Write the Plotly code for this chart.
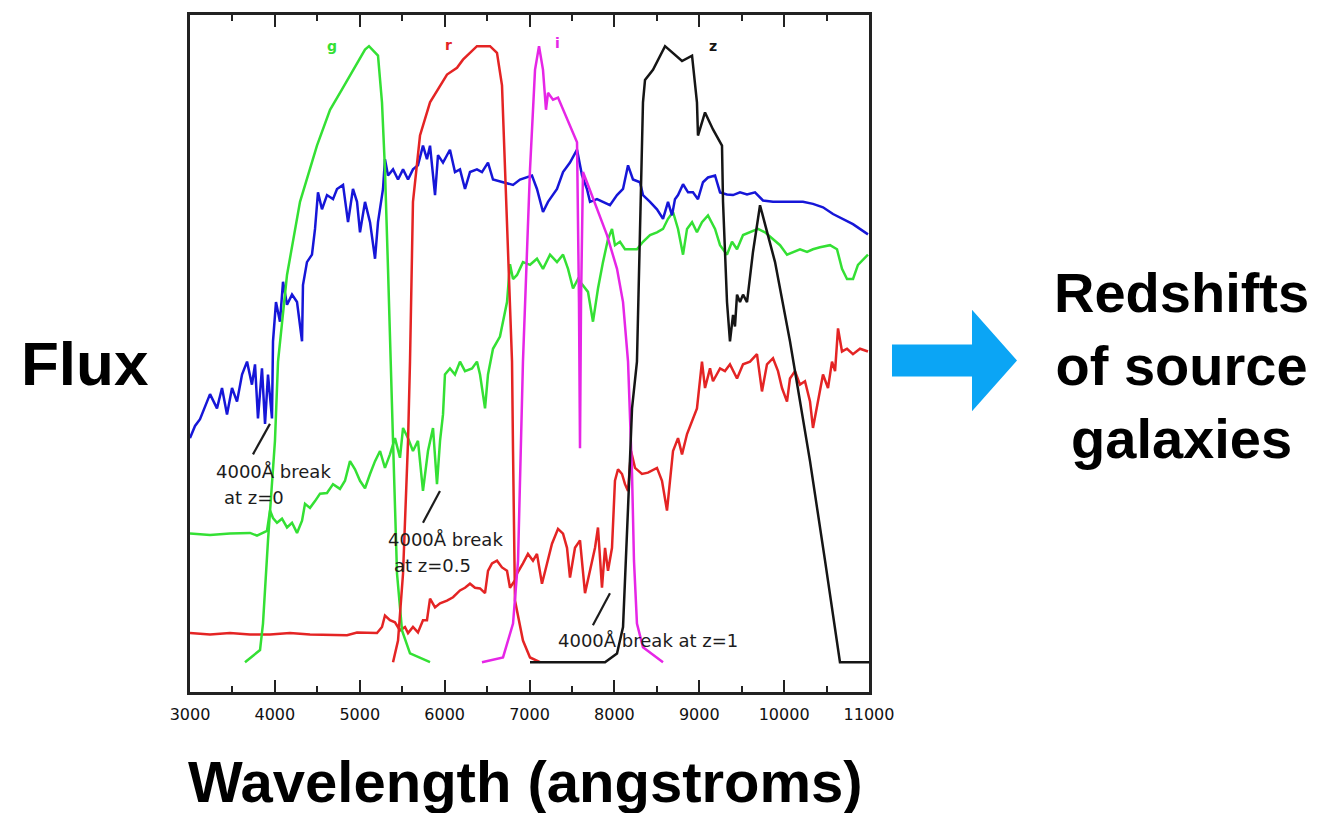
import plotly.graph_objects as go

# ---- filter transmission curves (wavelength in Angstrom, relative throughput) ----
g_wave = [3648, 3825, 3860, 3919, 4001, 4037, 4143, 4296, 4496, 4650, 4791, 4920,
          5062, 5109, 5215, 5262, 5297, 5333, 5368, 5392, 5439, 5498, 5592, 5828]
g_thru = [4.4, 6.2, 10.1, 22.4, 37.1, 48.8, 61.6, 72.4, 80.7, 86.0, 89.0, 91.9,
          94.9, 95.4, 94.0, 87.1, 77.2, 62.5, 48.8, 37.1, 17.5, 9.1, 5.7, 4.4]

r_wave = [5392, 5451, 5510, 5569, 5592, 5627, 5710, 5828, 6028, 6146, 6216, 6381,
          6535, 6617, 6676, 6711, 6747, 6794, 6806, 6829, 6923, 7006, 7124]
r_thru = [4.4, 7.6, 17.5, 37.1, 48.8, 72.4, 82.2, 87.1, 91.2, 92.2, 93.4, 95.4,
          95.4, 94.4, 89.6, 77.2, 62.5, 48.8, 35.6, 13.5, 7.6, 5.1, 4.4]

i_wave = [6440, 6688, 6806, 6865, 6923, 7006, 7065, 7112, 7159, 7194, 7218, 7277,
          7336, 7395, 7560, 7583, 7595, 7607, 7630, 7677, 7795, 7913, 8031, 8102,
          8161, 8208, 8231, 8266, 8337, 8573]
i_thru = [4.4, 5.1, 10.1, 19.4, 48.8, 77.2, 91.9, 95.4, 91.9, 86.0, 88.5, 87.5,
          87.8, 86.0, 81.2, 57.6, 36.0, 57.6, 76.8, 75.3, 71.3, 67.5, 62.5, 57.6,
          48.8, 32.2, 19.4, 10.1, 6.6, 4.4]

z_wave = [7006, 7890, 8031, 8102, 8161, 8208, 8266, 8302, 8337, 8361, 8455, 8597,
          8691, 8797, 8915, 8973, 8985, 9068, 9162, 9268, 9280, 9327, 9362, 9398,
          9421, 9445, 9480, 9516, 9563, 9633, 9716, 9893, 10069, 10305, 10482,
          10658, 11000]
z_thru = [4.4, 4.4, 5.7, 9.6, 27.2, 41.9, 48.8, 67.5, 87.1, 90.4, 91.9, 95.4,
          94.4, 93.2, 94.0, 87.1, 82.2, 85.6, 83.1, 80.7, 72.4, 57.6, 51.8, 55.7,
          54.0, 58.7, 57.6, 58.7, 57.6, 65.0, 71.9, 63.5, 51.8, 34.1, 19.4,
          4.4, 4.4]

# ---- galaxy spectrum observed at z = 0 (blue) ----
z0_wave = [3000, 3059, 3118, 3177, 3236, 3318, 3377, 3436, 3495, 3554, 3613, 3672,
           3730, 3766, 3801, 3848, 3884, 3919, 3966, 3978, 4013, 4060, 4096, 4143,
           4202, 4261, 4320, 4331, 4378, 4437, 4473, 4508, 4555, 4614, 4685, 4732,
           4803, 4862, 4920, 4968, 5003, 5062, 5121, 5180, 5215, 5274, 5297, 5333,
           5392, 5451, 5510, 5569, 5627, 5686, 5745, 5792, 5828, 5887, 5922, 5981,
           6063, 6122, 6181, 6240, 6299, 6381, 6440, 6511, 6570, 6688, 6806, 6888,
           7029, 7088, 7159, 7218, 7324, 7395, 7477, 7560, 7619, 7677, 7713, 7795,
           7866, 7948, 8031, 8102, 8161, 8219, 8302, 8337, 8420, 8502, 8573, 8632,
           8679, 8714, 8750, 8809, 8868, 8926, 8985, 9044, 9103, 9186, 9245, 9327,
           9398, 9480, 9563, 9657, 9751, 9869, 9987, 10105, 10222, 10340, 10458,
           10576, 10694, 10811, 10988]
z0_flux = [37.5, 39.3, 40.3, 42.2, 44.0, 41.9, 44.9, 41.0, 44.9, 42.9, 46.9, 48.8,
           45.4, 48.4, 40.4, 47.8, 39.6, 46.9, 40.4, 51.8, 57.6, 54.7, 60.6, 57.2,
           58.7, 57.6, 51.8, 60.1, 63.5, 64.6, 68.4, 73.8, 71.3, 73.4, 72.8, 74.3,
           74.9, 69.4, 74.3, 72.4, 67.9, 72.4, 69.4, 64.0, 69.4, 74.3, 78.7, 76.3,
           77.2, 75.7, 77.2, 75.7, 77.2, 77.8, 80.7, 78.7, 80.7, 73.4, 79.3, 78.2,
           80.1, 76.8, 77.2, 74.3, 76.8, 77.2, 76.8, 78.2, 75.7, 75.3, 74.9, 75.7,
           76.3, 74.3, 70.9, 72.4, 74.3, 76.8, 78.2, 80.1, 76.3, 74.3, 72.4, 72.8,
           72.4, 71.9, 73.4, 74.3, 77.8, 75.7, 75.3, 73.4, 72.4, 71.3, 69.9, 72.4,
           70.4, 72.8, 73.4, 75.0, 73.8, 73.8, 72.8, 75.3, 76.0, 76.3, 73.8, 73.5,
           73.4, 73.8, 73.5, 73.8, 72.6, 72.4, 72.4, 72.4, 72.4, 72.1, 71.6,
           70.6, 69.9, 69.1, 67.6]

# ---- galaxy spectrum observed at z = 0.5 (green) ----
z05_wave = [3000, 3236, 3471, 3707, 3789, 3848, 3907, 3943, 3978, 4025, 4084, 4143,
            4202, 4261, 4320, 4355, 4414, 4473, 4532, 4614, 4685, 4767, 4826, 4885,
            4944, 5003, 5062, 5121, 5180, 5239, 5297, 5356, 5415, 5474, 5510, 5569,
            5627, 5686, 5745, 5804, 5863, 5910, 5946, 5981, 6004, 6063, 6122, 6181,
            6240, 6323, 6381, 6417, 6476, 6511, 6570, 6652, 6735, 6770, 6806, 6853,
            6923, 7006, 7088, 7159, 7242, 7324, 7395, 7454, 7513, 7571, 7630, 7689,
            7748, 7807, 7866, 7925, 7972, 8007, 8066, 8125, 8184, 8266, 8337, 8420,
            8502, 8573, 8632, 8691, 8750, 8809, 8856, 8915, 8973, 9032, 9103, 9186,
            9245, 9327, 9386, 9445, 9516, 9598, 9692, 9775, 9869, 9952, 10034,
            10105, 10187, 10270, 10340, 10423, 10541, 10623, 10682, 10741, 10812,
            10870, 10988]
z05_flux = [23.4, 23.2, 23.4, 23.5, 23.1, 23.5, 23.8, 26.8, 25.7, 25.0, 25.6, 24.3,
            25.0, 23.5, 25.3, 27.8, 27.2, 28.2, 29.3, 29.4, 30.7, 30.0, 31.2, 34.1,
            32.9, 31.2, 30.1, 32.2, 34.1, 35.6, 33.1, 35.1, 37.5, 34.6, 39.0, 37.5,
            35.6, 37.1, 29.7, 35.6, 39.0, 30.7, 37.1, 41.0, 46.9, 47.8, 46.9, 48.8,
            47.4, 47.8, 48.8, 46.9, 41.9, 46.9, 50.7, 52.5, 57.6, 63.2, 61.0, 61.6,
            63.5, 63.1, 64.0, 62.5, 64.6, 63.5, 64.6, 62.5, 59.6, 61.0, 60.1, 59.1,
            54.7, 59.6, 63.5, 66.9, 68.4, 66.0, 66.5, 65.4, 65.4, 65.4, 66.5, 67.5,
            67.9, 68.4, 69.9, 70.9, 68.4, 64.6, 68.4, 69.4, 67.9, 69.4, 70.4, 68.4,
            66.0, 64.6, 66.5, 65.4, 67.5, 67.9, 68.4, 67.9, 66.9, 66.0, 64.6,
            65.0, 65.4, 65.0, 65.4, 65.7, 66.0, 65.4, 62.5, 61.0, 61.0,
            63.1, 64.6]

# ---- galaxy spectrum observed at z = 1 (red) ----
z1_wave = [3000, 3236, 3471, 3707, 3943, 4178, 4414, 4650, 4850, 4968, 5085, 5203,
           5262, 5297, 5356, 5415, 5474, 5533, 5569, 5627, 5686, 5745, 5792, 5828,
           5887, 5946, 6028, 6099, 6181, 6240, 6299, 6358, 6417, 6476, 6511, 6558,
           6617, 6676, 6735, 6770, 6829, 6853, 6923, 6982, 7041, 7088, 7147, 7206,
           7265, 7336, 7395, 7442, 7477, 7536, 7595, 7654, 7713, 7772, 7807, 7854,
           7890, 7925, 7972, 8007, 8043, 8090, 8125, 8161, 8196, 8243, 8325, 8396,
           8502, 8561, 8620, 8655, 8691, 8750, 8797, 8856, 8915, 8973, 9032, 9068,
           9127, 9162, 9245, 9303, 9362, 9445, 9516, 9598, 9680, 9739, 9798, 9869,
           9928, 9975, 10034, 10069, 10128, 10187, 10246, 10305, 10340, 10399,
           10458, 10517, 10564, 10600, 10635, 10682, 10741, 10811, 10894, 10988]
z1_flux = [8.7, 8.5, 8.7, 8.5, 8.5, 8.7, 8.5, 8.4, 8.4, 8.8, 8.8, 8.7,
           9.6, 11.3, 10.6, 10.3, 9.1, 9.6, 8.7, 9.6, 8.8, 10.6, 10.6, 13.8,
           12.5, 13.1, 13.5, 14.0, 15.0, 15.4, 16.0, 15.4, 15.3, 14.6, 17.9, 19.0,
           19.4, 18.4, 17.9, 15.4, 16.5, 17.5, 19.0, 20.4, 19.4, 20.4, 16.0, 19.0,
           21.9, 24.1, 23.4, 21.3, 16.9, 21.3, 22.4, 14.6, 17.9, 21.3, 24.3, 15.4,
           21.3, 17.9, 21.3, 31.2, 32.9, 32.2, 30.7, 29.7, 35.6, 33.1, 32.2, 32.4,
           33.1, 31.2, 26.8, 31.2, 35.6, 37.5, 35.1, 38.1, 40.0, 41.9, 48.8, 44.9,
           47.8, 45.9, 47.8, 47.4, 48.4, 46.3, 48.4, 48.8, 49.9, 44.4, 48.4, 49.3,
           47.4, 44.9, 42.9, 46.3, 47.4, 45.4, 45.9, 42.9, 39.0, 42.9,
           46.9, 44.9, 48.8, 47.4, 53.7, 50.3, 50.7, 49.9, 50.7, 50.3]

x_ticks = [3000, 4000, 5000, 6000, 7000, 8000, 9000, 10000, 11000]

# ---- figure geometry (pixels) ----
W, H = 1340, 813
ML, MR, MT, MB = 190, 471, 12, 121
PW, PH = W - ML - MR, H - MT - MB


def px(x):
    return (x - ML) / PW


def py(y):
    return (H - MB - y) / PH


BLUE = "#1616D8"
GREEN = "#34E034"
RED = "#E42424"
MAGENTA = "#E626E6"
BLACK = "#151515"
LW = 2.5

fig = go.Figure()


def add_line(x, y, color):
    fig.add_trace(go.Scatter(x=x, y=y, mode="lines",
                             line=dict(color=color, width=LW),
                             hoverinfo="skip", showlegend=False))


add_line(z1_wave, z1_flux, RED)
add_line(z05_wave, z05_flux, GREEN)
add_line(z0_wave, z0_flux, BLUE)
add_line(g_wave, g_thru, GREEN)
add_line(r_wave, r_thru, RED)
add_line(i_wave, i_thru, MAGENTA)
add_line(z_wave, z_thru, BLACK)

inner_font = dict(family="DejaVu Sans", size=18, color="#1c1c1c")
annotations = []

# filter names along the top
for name, x, y, c in [("g", 4673, 95.4, GREEN), ("r", 6040, 95.6, RED),
                      ("i", 7324, 95.9, MAGENTA), ("z", 9162, 95.4, BLACK)]:
    annotations.append(dict(x=x, y=y, xref="x", yref="y", text="<b>" + name + "</b>",
                            showarrow=False,
                            font=dict(family="DejaVu Sans", size=14, color=c)))

# 4000 Angstrom break labels
for txt, x, y in [("4000Å break", 3280, 32.6), ("at z=0", 3375, 28.7),
                  ("4000Å break", 5305, 22.6), ("at z=0.5", 5375, 18.7),
                  ("4000Å break at z=1", 7310, 7.6)]:
    annotations.append(dict(x=x, y=y, xref="x", yref="y", text=txt, showarrow=False,
                            xanchor="left", yanchor="middle", font=inner_font))

shapes = []
for x0, y0, x1, y1 in [(3742, 35.1, 3942, 39.6), (5745, 25.0, 5945, 29.7),
                       (7747, 9.85, 7948, 14.6)]:
    shapes.append(dict(type="line", xref="x", yref="y", x0=x0, y0=y0, x1=x1, y1=y1,
                       line=dict(color="#1c1c1c", width=2.2)))

# outer slide text
annotations.append(dict(x=px(85), y=py(362), xref="paper", yref="paper", text="<b>Flux</b>",
                        showarrow=False, xanchor="center", yanchor="middle",
                        font=dict(family="Liberation Sans", size=62, color="#000")))
annotations.append(dict(x=px(525), y=py(782), xref="paper", yref="paper",
                        text="<b>Wavelength (angstroms)</b>", showarrow=False,
                        xanchor="center", yanchor="middle",
                        font=dict(family="Liberation Sans", size=58, color="#000")))
annotations.append(dict(x=px(1181), y=py(364), xref="paper", yref="paper",
                        text="<b>Redshifts<br>of source<br>galaxies</b>", showarrow=False,
                        xanchor="center", yanchor="middle", align="center",
                        font=dict(family="Liberation Sans", size=56, color="#000")))

# block arrow
pts = [(892, 343), (972, 343), (972, 308), (1017, 359), (972, 410), (972, 375), (892, 375)]
path = "M " + " L ".join(f"{px(a):.5f},{py(b):.5f}" for a, b in pts) + " Z"
shapes.append(dict(type="path", xref="paper", yref="paper", path=path,
                   fillcolor="#0BA5F5", line=dict(width=0), layer="above"))

fig.update_layout(
    width=W, height=H,
    margin=dict(l=ML, r=MR, t=MT, b=MB, pad=0),
    paper_bgcolor="white", plot_bgcolor="white",
    showlegend=False,
    annotations=annotations,
    shapes=shapes,
)
fig.update_xaxes(range=[3000, 11000], tickvals=x_ticks, ticktext=[str(t) for t in x_ticks],
                 ticks="inside", ticklen=12, tickwidth=2.2, tickcolor="#222",
                 minor=dict(ticks="inside", ticklen=6, tickwidth=2, tickcolor="#222", dtick=500),
                 showline=True, linewidth=3, linecolor="#222", mirror="ticks",
                 showgrid=False, zeroline=False, ticklabelstandoff=6,
                 tickfont=dict(family="DejaVu Sans", size=16, color="#111"))
fig.update_yaxes(range=[0, 100], showticklabels=False, ticks="",
                 showline=True, linewidth=3, linecolor="#222", mirror=True,
                 showgrid=False, zeroline=False)

fig.write_html("out.html")
